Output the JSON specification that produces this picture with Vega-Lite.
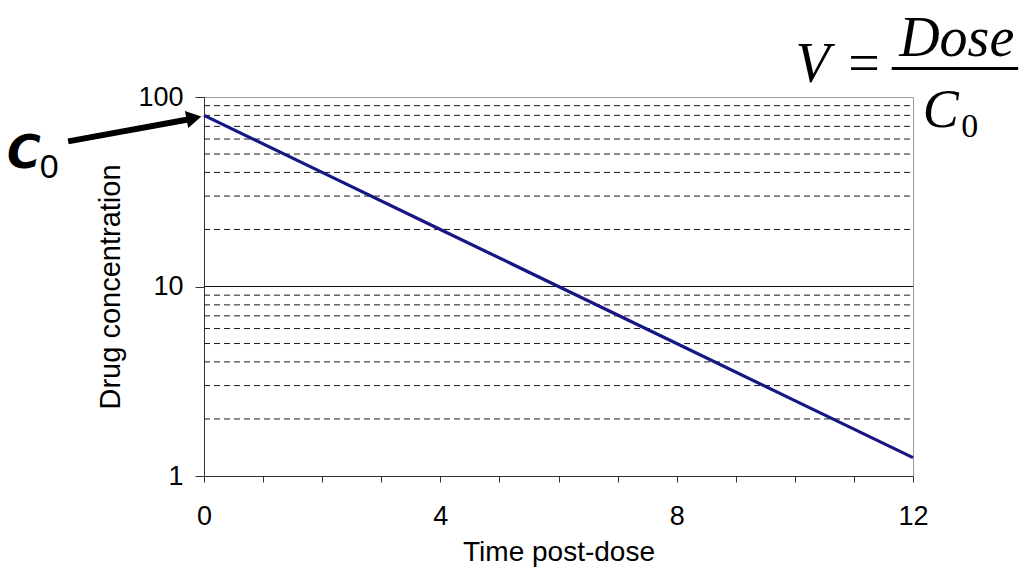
{
  "$schema": "https://vega.github.io/schema/vega-lite/v6.json",
  "width": 709,
  "height": 379,
  "autosize": "none",
  "padding": {"left": 204, "top": 97, "right": 109, "bottom": 105},
  "background": "white",
  "config": {
    "view": {"stroke": "#9a9a9a", "strokeWidth": 1},
    "font": "Liberation Sans"
  },
  "datasets": {
    "curve": [
      {"t": 0, "c": 80},
      {"t": 2, "c": 40},
      {"t": 4, "c": 20},
      {"t": 6, "c": 10},
      {"t": 8, "c": 5},
      {"t": 10, "c": 2.5},
      {"t": 12, "c": 1.25}
    ],
    "dashgrid": [
      {"t": 0, "t2": 12, "c": 2}, {"t": 0, "t2": 12, "c": 3}, {"t": 0, "t2": 12, "c": 4},
      {"t": 0, "t2": 12, "c": 5}, {"t": 0, "t2": 12, "c": 6}, {"t": 0, "t2": 12, "c": 7},
      {"t": 0, "t2": 12, "c": 8}, {"t": 0, "t2": 12, "c": 9},
      {"t": 0, "t2": 12, "c": 20}, {"t": 0, "t2": 12, "c": 30}, {"t": 0, "t2": 12, "c": 40},
      {"t": 0, "t2": 12, "c": 50}, {"t": 0, "t2": 12, "c": 60}, {"t": 0, "t2": 12, "c": 70},
      {"t": 0, "t2": 12, "c": 80}, {"t": 0, "t2": 12, "c": 90}
    ],
    "solidgrid": [{"t": 0, "t2": 12, "c": 10}],
    "arrow": [{"t": -2.30, "c": 58.3, "t2": -0.27, "c2": 76.1}],
    "arrowhead": [{"t": -0.17, "c": 77.5}],
    "bar": [{"t": 11.64, "t2": 13.78, "c": 141.3}],
    "formulaItalic": [
      {"t": 10.30, "c": 120, "label": "V", "size": 56},
      {"t": 12.74, "c": 165.5, "label": "Dose", "size": 56},
      {"t": 12.47, "c": 69.1, "label": "C", "size": 54}
    ],
    "formulaUpright": [
      {"t": 11.17, "c": 120, "label": "=", "size": 56},
      {"t": 12.96, "c": 61.2, "label": "0", "size": 34}
    ],
    "c0C": [{"t": -3.05, "c": 42.0, "label": "C"}],
    "c0sub": [{"t": -2.62, "c": 37.2, "label": "0"}]
  },
  "layer": [
    {
      "data": {"name": "dashgrid"},
      "mark": {"type": "rule", "color": "#1a1a1a", "strokeWidth": 1, "strokeDash": [6, 4]},
      "encoding": {
        "x": {"field": "t", "type": "quantitative", "scale": {"type": "linear", "domain": [0, 12], "nice": false, "zero": false},
          "axis": {
            "title": "Time post-dose",
            "values": [0, 1, 2, 3, 4, 5, 6, 7, 8, 9, 10, 11, 12],
            "format": "d",
            "labelExpr": "datum.value % 4 === 0 ? datum.label : ''",
            "labelFlush": false,
            "labelOverlap": false,
            "grid": false,
            "tickSize": 6,
            "tickColor": "#333",
            "domainColor": "#333",
            "labelFontSize": 27,
            "labelColor": "#000",
            "labelPadding": 21,
            "titleFontSize": 28,
            "titleFontWeight": "normal",
            "titleColor": "#000",
            "titlePadding": 9
          }},
        "x2": {"field": "t2"},
        "y": {"field": "c", "type": "quantitative", "scale": {"type": "log", "domain": [1, 100], "nice": false},
          "axis": {
            "title": "Drug concentration",
            "values": [1, 10, 100],
            "format": "d",
            "labelFlush": false,
            "labelOverlap": false,
            "grid": false,
            "tickSize": 9,
            "tickColor": "#333",
            "domainColor": "#333",
            "labelFontSize": 27,
            "labelColor": "#000",
            "labelPadding": 12,
            "titleFontSize": 29,
            "titleFontWeight": "normal",
            "titleColor": "#000",
            "titlePadding": 12
          }}
      }
    },
    {
      "data": {"name": "solidgrid"},
      "mark": {"type": "rule", "color": "#111", "strokeWidth": 1.2},
      "encoding": {
        "x": {"field": "t", "type": "quantitative"},
        "x2": {"field": "t2"},
        "y": {"field": "c", "type": "quantitative"}
      }
    },
    {
      "data": {"name": "curve"},
      "mark": {"type": "line", "color": "#161685", "strokeWidth": 3.2},
      "encoding": {
        "x": {"field": "t", "type": "quantitative"},
        "y": {"field": "c", "type": "quantitative"}
      }
    },
    {
      "data": {"name": "arrow"},
      "mark": {"type": "rule", "color": "#000", "strokeWidth": 6, "strokeCap": "butt", "clip": false},
      "encoding": {
        "x": {"field": "t", "type": "quantitative"},
        "x2": {"field": "t2"},
        "y": {"field": "c", "type": "quantitative"},
        "y2": {"field": "c2"}
      }
    },
    {
      "data": {"name": "arrowhead"},
      "mark": {"type": "point", "shape": "triangle-right", "filled": true, "color": "#000", "opacity": 1, "size": 300, "angle": 349, "clip": false},
      "encoding": {
        "x": {"field": "t", "type": "quantitative"},
        "y": {"field": "c", "type": "quantitative"}
      }
    },
    {
      "data": {"name": "bar"},
      "mark": {"type": "rule", "color": "#000", "strokeWidth": 3, "clip": false},
      "encoding": {
        "x": {"field": "t", "type": "quantitative"},
        "x2": {"field": "t2"},
        "y": {"field": "c", "type": "quantitative"}
      }
    },
    {
      "data": {"name": "formulaItalic"},
      "mark": {"type": "text", "font": "Liberation Serif", "fontStyle": "italic", "align": "center", "baseline": "alphabetic", "color": "#000", "clip": false},
      "encoding": {
        "x": {"field": "t", "type": "quantitative"},
        "y": {"field": "c", "type": "quantitative"},
        "text": {"field": "label"},
        "size": {"field": "size", "type": "quantitative", "scale": null}
      }
    },
    {
      "data": {"name": "formulaUpright"},
      "mark": {"type": "text", "font": "Liberation Serif", "align": "center", "baseline": "alphabetic", "color": "#000", "clip": false},
      "encoding": {
        "x": {"field": "t", "type": "quantitative"},
        "y": {"field": "c", "type": "quantitative"},
        "text": {"field": "label"},
        "size": {"field": "size", "type": "quantitative", "scale": null}
      }
    },
    {
      "data": {"name": "c0C"},
      "mark": {"type": "text", "font": "DejaVu Sans", "fontWeight": "bold", "fontStyle": "italic", "fontSize": 46, "align": "center", "baseline": "alphabetic", "color": "#000", "clip": false},
      "encoding": {
        "x": {"field": "t", "type": "quantitative"},
        "y": {"field": "c", "type": "quantitative"},
        "text": {"field": "label"}
      }
    },
    {
      "data": {"name": "c0sub"},
      "mark": {"type": "text", "font": "Liberation Sans", "fontSize": 34, "align": "center", "baseline": "alphabetic", "color": "#000", "clip": false},
      "encoding": {
        "x": {"field": "t", "type": "quantitative"},
        "y": {"field": "c", "type": "quantitative"},
        "text": {"field": "label"}
      }
    }
  ]
}
